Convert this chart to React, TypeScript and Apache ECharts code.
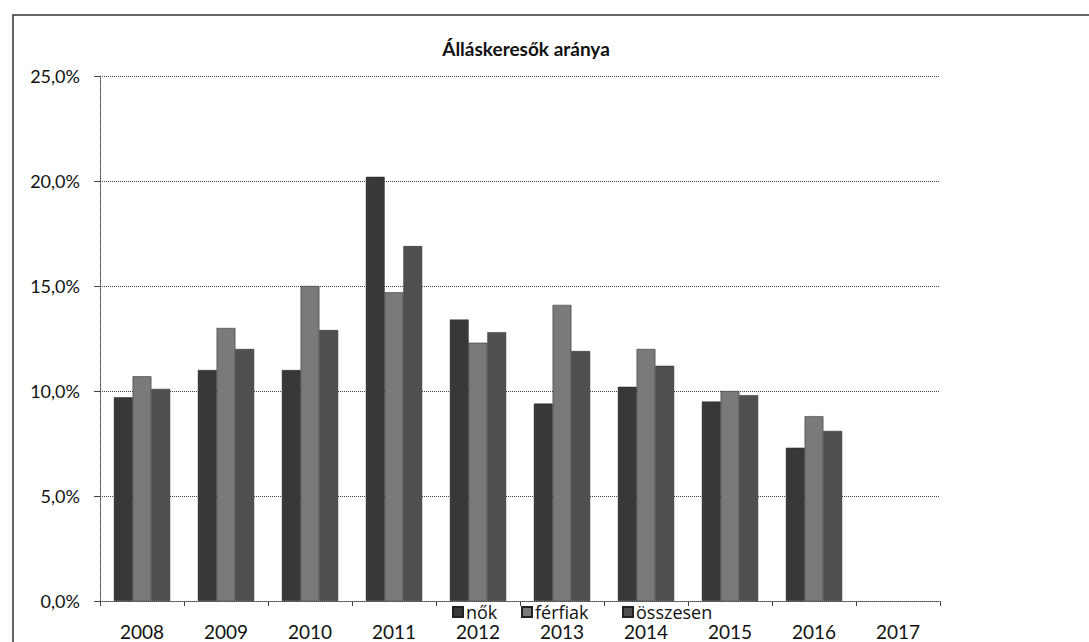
import React, { useEffect, useRef } from "react";
import * as echarts from "echarts";

const categories = ["2008", "2009", "2010", "2011", "2012", "2013", "2014", "2015", "2016", "2017"];
const nok = [9.7, 11.0, 11.0, 20.2, 13.4, 9.4, 10.2, 9.5, 7.3, null];
const ferfiak = [10.7, 13.0, 15.0, 14.7, 12.3, 14.1, 12.0, 10.0, 8.8, null];
const osszesen = [10.1, 12.0, 12.9, 16.9, 12.8, 11.9, 11.2, 9.8, 8.1, null];
const seriesNames = ["nők", "férfiak", "összesen"];
const colors = ["#383838", "#7a7a7a", "#505050"];

export default function App() {
  const ref = useRef<HTMLDivElement>(null);
  useEffect(() => {
    const chart = echarts.init(ref.current!, null, { renderer: "svg" });
    const font = "Lato, 'Open Sans', sans-serif";
    const mk = (name: string, data: any[], color: string) => ({
      name,
      type: "bar",
      data,
      barGap: "0%",
      barCategoryGap: "33%",
      itemStyle: { color, borderColor: "#222", borderWidth: 0.5 },
    });
    const legendLefts = [452, 521, 622];
    chart.setOption({
      animation: false,
      backgroundColor: "#fff",
      color: colors,
      title: {
        text: "Álláskeresők aránya",
        left: 521,
        textAlign: "center",
        top: 34,
        textStyle: { fontFamily: font, fontSize: 19, fontWeight: "bold", color: "#111" },
      },
      legend: seriesNames.map((n, i) => ({
        top: 603,
        left: legendLefts[i],
        padding: 0,
        itemWidth: 10,
        itemHeight: 10,
        icon: "rect",
        textStyle: { fontFamily: "'Open Sans', sans-serif", fontSize: 18, color: "#111", padding: [0, 0, 0, -2] },
        data: [n],
      })),
      grid: { left: 100, right: 149, top: 76, bottom: 41, containLabel: false },
      xAxis: {
        type: "category",
        data: categories,
        axisLine: { lineStyle: { color: "#444", type: "dotted", width: 1 } },
        axisTick: { show: true, length: 5, lineStyle: { color: "#444" } },
        axisLabel: { fontFamily: font, fontSize: 19, color: "#111", margin: 21 },
      },
      yAxis: {
        type: "value",
        min: 0,
        max: 25,
        interval: 5,
        axisLine: { show: true, lineStyle: { color: "#444", type: "dotted" } },
        axisTick: { show: true, length: 6, lineStyle: { color: "#444" } },
        splitLine: { lineStyle: { color: "#444", type: "dotted", width: 1 } },
        axisLabel: {
          fontFamily: font,
          fontSize: 18,
          color: "#111",
          margin: 20,
          formatter: (v: number) => v.toFixed(1).replace(".", ",") + "%",
        },
      },
      graphic: [
        {
          type: "rect",
          shape: { x: 13, y: 15, width: 1200, height: 800 },
          style: { fill: "none", stroke: "#333", lineWidth: 1.5 },
          silent: true,
          z: -1,
        },
      ],
      series: [
        mk(seriesNames[0], nok, colors[0]),
        mk(seriesNames[1], ferfiak, colors[1]),
        mk(seriesNames[2], osszesen, colors[2]),
      ],
    });
    return () => chart.dispose();
  }, []);
  return (
    <div
      ref={ref}
      style={{ position: "absolute", left: 0, top: 0, width: 1089, height: 642 }}
    />
  );
}
